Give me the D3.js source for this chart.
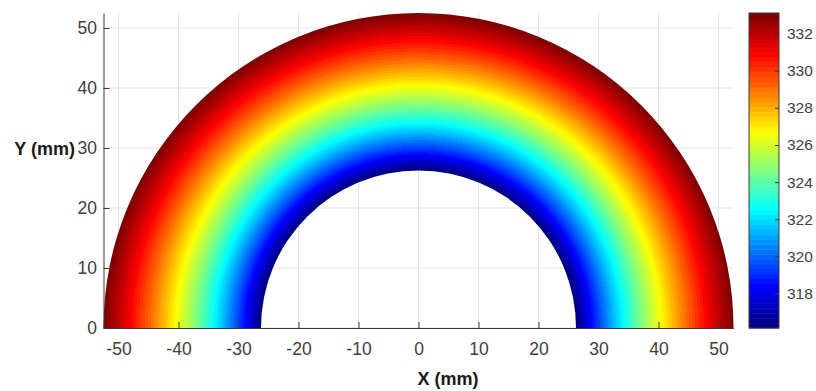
<!DOCTYPE html>
<html>
<head>
<meta charset="utf-8">
<script src="https://cdn.jsdelivr.net/npm/d3@7"></script>
<style>
  body { margin: 0; background: #fff; }
  text { font-family: "Liberation Sans", Arial, sans-serif; }
</style>
</head>
<body>
<div id="chart"></div>
<script>
// temperature read along the radius of the half ring (mm -> K)
const radii = [26.25, 27.5, 30, 32.5, 35, 37.5, 40, 42.5, 45, 47.5, 50, 52.5];
const temps = [316.15, 317.29, 319.41, 321.37, 323.18, 324.87, 326.45, 327.93, 329.33, 330.65, 331.91, 333.1];

// axis limits and tick labels
const xLimits = [-52.5, 52.5];
const yLimits = [0, 52.5];
const tempLimits = [316.15, 333.1];
const xTicks = [-50, -40, -30, -20, -10, 0, 10, 20, 30, 40, 50];
const yTicks = [0, 10, 20, 30, 40, 50];
const cbTicks = [318, 320, 322, 324, 326, 328, 330, 332];

const width = 816, height = 391;
const plot = { left: 103.5, right: 733.5, top: 13, bottom: 328 };
const cb = { left: 749, right: 779, top: 13, bottom: 328 };

const svg = d3.select("#chart").append("svg")
  .attr("width", width).attr("height", height);

const x = d3.scaleLinear().domain(xLimits).range([plot.left, plot.right]);
const y = d3.scaleLinear().domain(yLimits).range([plot.bottom, plot.top]);

// matlab jet, 64 levels
const jetRaw = d3.scaleLinear()
  .domain([0, 0.125, 0.375, 0.625, 0.875, 1])
  .range(["#000080", "#0000ff", "#00ffff", "#ffff00", "#ff0000", "#800000"])
  .clamp(true);
const nLevels = 64;
function jet64(t) {
  const f = (t - tempLimits[0]) / (tempLimits[1] - tempLimits[0]);
  const i = Math.max(0, Math.min(nLevels - 1, Math.floor(f * nLevels)));
  return jetRaw(i / (nLevels - 1));
}

// grid lines (behind the patch)
const grid = svg.append("g").attr("stroke", "#e3e3e3").attr("stroke-width", 1);
grid.selectAll(".gx").data(xTicks).enter().append("line")
  .attr("x1", d => x(d)).attr("x2", d => x(d))
  .attr("y1", plot.top).attr("y2", plot.bottom);
grid.selectAll(".gy").data(yTicks).enter().append("line")
  .attr("x1", plot.left).attr("x2", plot.right)
  .attr("y1", d => y(d)).attr("y2", d => y(d));

// radial gradient built from the radius/temperature readings
const tempAt = d3.scaleLinear().domain(radii).range(temps);
const rOuter = radii[radii.length - 1];
const rInner = radii[0];
const cx = x(0), cy = y(0);
const rPx = x(rOuter) - x(0);

// gradient lives in the path's local space (centre at 0,0)
const grad = svg.append("defs").append("radialGradient")
  .attr("id", "ring")
  .attr("gradientUnits", "userSpaceOnUse")
  .attr("cx", 0).attr("cy", 0).attr("r", rPx)
  .attr("fx", 0).attr("fy", 0);
const samples = d3.range(0, 401).map(i => rInner + (rOuter - rInner) * i / 400);
grad.selectAll("stop").data(samples).enter().append("stop")
  .attr("offset", d => d / rOuter)
  .attr("stop-color", d => jet64(tempAt(d)));

const arc = d3.arc()
  .innerRadius(x(rInner) - x(0))
  .outerRadius(rPx)
  .startAngle(-Math.PI / 2)
  .endAngle(Math.PI / 2);

svg.append("path")
  .attr("d", arc())
  .attr("transform", `translate(${cx},${cy})`)
  .attr("fill", "url(#ring)");

// axes
const fmt = d => String(d);
const xAxis = svg.append("g")
  .attr("transform", `translate(0,${plot.bottom})`)
  .call(d3.axisBottom(x).tickValues(xTicks).tickFormat(fmt).tickSizeInner(-6).tickSizeOuter(0).tickPadding(15));
const yAxis = svg.append("g")
  .attr("transform", `translate(${plot.left},0)`)
  .call(d3.axisLeft(y).tickValues(yTicks).tickFormat(fmt).tickSizeInner(-6).tickSizeOuter(0).tickPadding(6.5));

[xAxis, yAxis].forEach(a => {
  a.select(".domain").attr("stroke", "#3a3a3a");
  a.selectAll(".tick line").attr("stroke", "#3a3a3a");
  a.selectAll(".tick text").attr("fill", "#404040").style("font-size", "17.5px");
});

svg.append("text")
  .attr("x", 448).attr("y", 385)
  .attr("text-anchor", "middle")
  .attr("font-weight", "bold").attr("font-size", 18).attr("fill", "#1a1a1a")
  .text("X (mm)");
svg.append("text")
  .attr("x", 75).attr("y", 154.5)
  .attr("text-anchor", "end")
  .attr("font-weight", "bold").attr("font-size", 18).attr("fill", "#1a1a1a")
  .text("Y (mm)");

// colorbar
const cbScale = d3.scaleLinear().domain(tempLimits).range([cb.bottom, cb.top]);
const levels = d3.range(nLevels);
const step = (tempLimits[1] - tempLimits[0]) / nLevels;
svg.append("g").selectAll("rect").data(levels).enter().append("rect")
  .attr("x", cb.left)
  .attr("width", cb.right - cb.left)
  .attr("y", d => cbScale(tempLimits[0] + (d + 1) * step))
  .attr("height", (cb.bottom - cb.top) / nLevels + 0.5)
  .attr("fill", d => jetRaw(d / (nLevels - 1)));

svg.append("rect")
  .attr("x", cb.left).attr("y", cb.top)
  .attr("width", cb.right - cb.left).attr("height", cb.bottom - cb.top)
  .attr("fill", "none").attr("stroke", "#3a3a3a");

const cbAxis = svg.append("g")
  .attr("transform", `translate(${cb.right},0)`)
  .call(d3.axisRight(cbScale).tickValues(cbTicks).tickSizeInner(-4).tickSizeOuter(0).tickPadding(8));
cbAxis.select(".domain").remove();
cbAxis.selectAll(".tick line").attr("stroke", "#3a3a3a");
cbAxis.selectAll(".tick text").attr("fill", "#404040").style("font-size", "15.5px");
</script>
</body>
</html>
